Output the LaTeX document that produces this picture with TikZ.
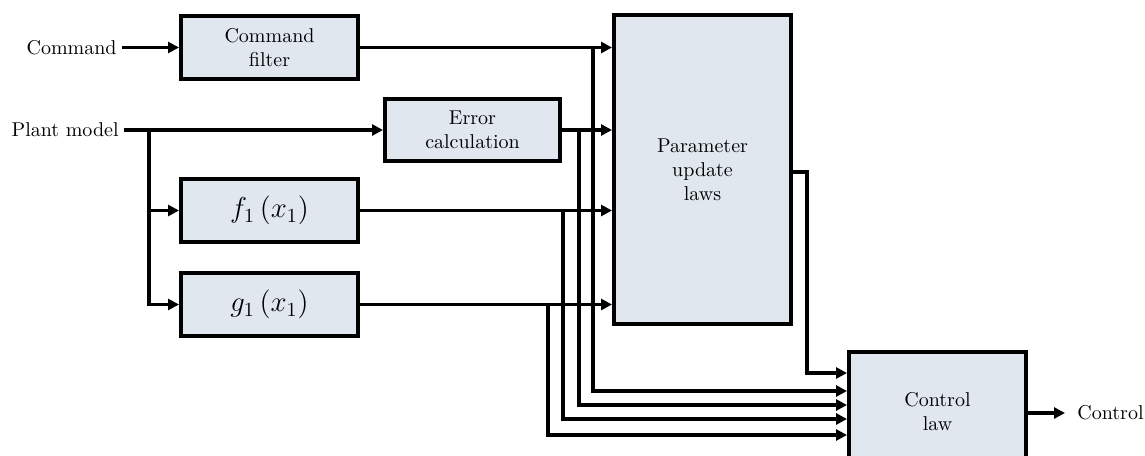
\documentclass[tikz,border=0pt]{standalone}
\usetikzlibrary{arrows.meta}
\definecolor{boxfill}{RGB}{224,231,239}
\begin{document}
\begin{tikzpicture}[x=0.5pt,y=-0.5pt,
  blk/.style={draw=black, line width=2pt, fill=boxfill, align=center,
    minimum width=88.5pt, inner sep=0pt},
  lbl/.style={inner sep=0pt},
  wire/.style={line width=1.7pt},
  sig/.style={wire, -{Triangle[length=5.5pt,width=5.5pt]}}]
\useasboundingbox (0,0) rectangle (1145,455);

% blocks
\node[blk, minimum height=31.5pt] (cf) at (269.5,47.5) {Command\\filter};
\node[blk, minimum width=87.5pt, minimum height=31pt] (ec) at (472.5,130) {Error\\calculation};
\node[blk, minimum height=31.5pt] (f1) at (269.5,210.5) {\Large $f_1\left(x_1\right)$};
\node[blk, minimum height=31.5pt] (g1) at (269.5,304.5) {\Large $g_1\left(x_1\right)$};
\node[blk, minimum height=154.5pt] (pu) at (702.5,169.5) {Parameter\\update\\laws};
\node[blk, minimum height=60pt] (cl) at (937.5,412) {Control\\law};

% outer signals
\node[lbl, anchor=east] (cmd) at (117,47.5) {Command};
\node[lbl, anchor=east] (plant) at (119,130) {Plant model};
\node[lbl, anchor=west] (ctl) at (1077,413) {Control};

% branch and tap points
\coordinate (br) at (149,130);
\coordinate (tc) at (593,47.5);
\coordinate (te) at (579,130);
\coordinate (tf) at (563,210.5);
\coordinate (tg) at (548,304.5);
\coordinate (pe) at (807,172);

% inputs
\draw[sig] (cmd.east) ++(5,0) -- (cf.west);
\draw[sig] (plant.east) ++(5,0) -- (ec.west);
\draw[sig] (br) |- (f1.west);
\draw[sig] (br) |- (g1.west);

% into the parameter update laws
\draw[sig] (cf.east) -- (cf.east -| pu.west);
\draw[sig] (ec.east) -- (ec.east -| pu.west);
\draw[sig] (f1.east) -- (f1.east -| pu.west);
\draw[sig] (g1.east) -- (g1.east -| pu.west);

% into the control law
\draw[sig] (pu.east |- pe) -- (pe) |- (cl.west |- 0,373);
\draw[sig] (tc) |- (cl.west |- 0,391);
\draw[sig] (te) |- (cl.west |- 0,405);
\draw[sig] (tf) |- (cl.west |- 0,419);
\draw[sig] (tg) |- (cl.west |- 0,435);

% output
\draw[sig] (cl.east |- ctl) -- ([xshift=-6pt]ctl.west);
\end{tikzpicture}
\end{document}
